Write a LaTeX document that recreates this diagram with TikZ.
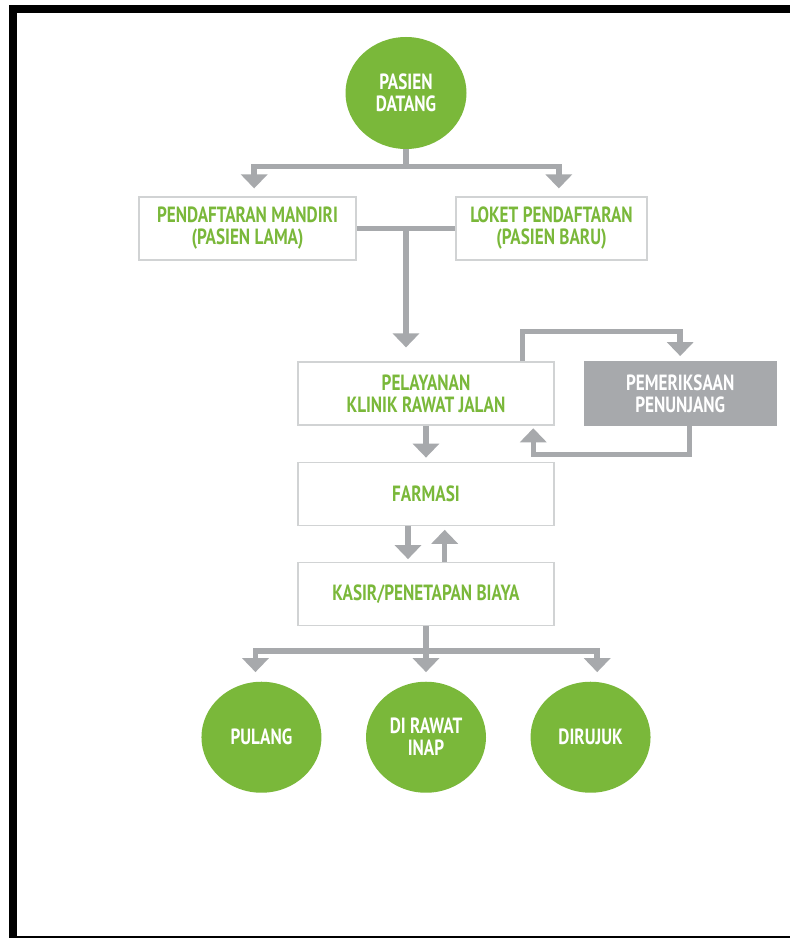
\documentclass[tikz,border=0pt]{standalone}
\usepackage{fontspec}
\newfontfamily\alurfont[FakeStretch=0.78]{PT Sans}
\usepackage{tikz}
\usepackage{xcolor}
\usetikzlibrary{positioning, arrows.meta, shapes.geometric, calc}

\definecolor{hijau}{HTML}{7AB83A}
\definecolor{abu}{HTML}{A7A9AC}
\definecolor{garis}{HTML}{D1D3D4}

\begin{document}
\begin{tikzpicture}[
x=0.75pt, y=-0.75pt,
node distance=27pt and 21.75pt,
box/.style={rectangle, draw=garis, line width=0.9pt, fill=white, align=center, minimum width=192pt, minimum height=47.25pt, inner sep=2pt, text=hijau, font=\alurfont\bfseries\fontsize{16.5}{16.5}\selectfont},
sidebox/.style={box, draw=abu, fill=abu, text=white, minimum width=144pt},
circ/.style={ellipse, fill=hijau, minimum width=90pt, minimum height=83.25pt, inner sep=0pt, align=center, text=white, font=\alurfont\bfseries\fontsize{16.5}{16.5}\selectfont},
stem/.style={abu, line width=4.1pt},
arrow/.style={stem, -{Triangle[width=19.5pt, length=10.5pt]}}
]

\useasboundingbox (0,0) rectangle (790,938);
\fill[white] (0,0) rectangle (790,938);

% bingkai
\fill[black] (9,5) rectangle (17,938);
\fill[black] (9,5) rectangle (790,13);
\draw[black, line width=1.2pt] (17,937) -- (790,937);

\node[circ, minimum width=90.75pt, minimum height=84pt] (alur_datang) at (406,93) {PASIEN\\DATANG};
\node[box, minimum width=162.75pt] (alur_mandiri) at (247.5,228.5) {PENDAFTARAN MANDIRI\\(PASIEN LAMA)};
\node[box, minimum width=143.25pt] (alur_loket) at (551.5,228.5) {LOKET PENDAFTARAN\\(PASIEN BARU)};
\node[box] (alur_klinik) at (426,393.5) {PELAYANAN\\KLINIK RAWAT JALAN};
\node[sidebox, right=of alur_klinik] (alur_penunjang) {PEMERIKSAAN\\PENUNJANG};
\node[box, below=of alur_klinik] (alur_farmasi) {FARMASI};
\node[box, below=of alur_farmasi] (alur_kasir) {KASIR/PENETAPAN BIAYA};
\node[circ, below=41.6pt of alur_kasir] (alur_inap) {DI RAWAT\\INAP};
\node[circ, left=33pt of alur_inap] (alur_pulang) {PULANG};
\node[circ, right=33pt of alur_inap] (alur_rujuk) {DIRUJUK};

% pendaftaran
\coordinate (split_atas) at ($(alur_datang.south)+(0,17)$);
\draw[stem] (alur_datang) -- (split_atas);
\draw[arrow, shorten >=6pt] (split_atas) -| ([xshift=5pt]alur_mandiri.north);
\draw[arrow, shorten >=6pt] (split_atas) -| ([xshift=5.5pt]alur_loket.north);

\coordinate (join_atas) at ($(alur_mandiri.east)!0.5!(alur_loket.west)$);
\draw[stem] (alur_mandiri) -- (alur_loket);
\draw[arrow, shorten >=10.5pt] (join_atas) -- (join_atas |- alur_klinik.north);

% penunjang
\draw[arrow, shorten >=4pt] ([xshift=-24pt]alur_klinik.north east) -- ++(0,-30) -| (alur_penunjang.north);
\draw[arrow, shorten >=2pt] ([xshift=7pt]alur_penunjang.south) -- ++(0,29) -| ([xshift=-16pt]alur_klinik.south east);

\draw[arrow, shorten >=3pt] (alur_klinik) -- (alur_farmasi);
\draw[arrow, shorten >=2pt] ([xshift=-13.5pt]alur_farmasi.south) -- ([xshift=-13.5pt]alur_kasir.north);
\draw[arrow, shorten >=3pt] ([xshift=14pt]alur_kasir.north) -- ([xshift=14pt]alur_farmasi.south);

% keluar
\coordinate (split_bawah) at ($(alur_kasir.south)+(0,25)$);
\draw[arrow, shorten >=7pt] (alur_kasir) -- (alur_inap);
\draw[arrow, shorten >=7pt] (split_bawah) -| ([xshift=-4.5pt]alur_pulang.north);
\draw[arrow, shorten >=7pt] (split_bawah) -| ([xshift=5pt]alur_rujuk.north);

\end{tikzpicture}
\end{document}
